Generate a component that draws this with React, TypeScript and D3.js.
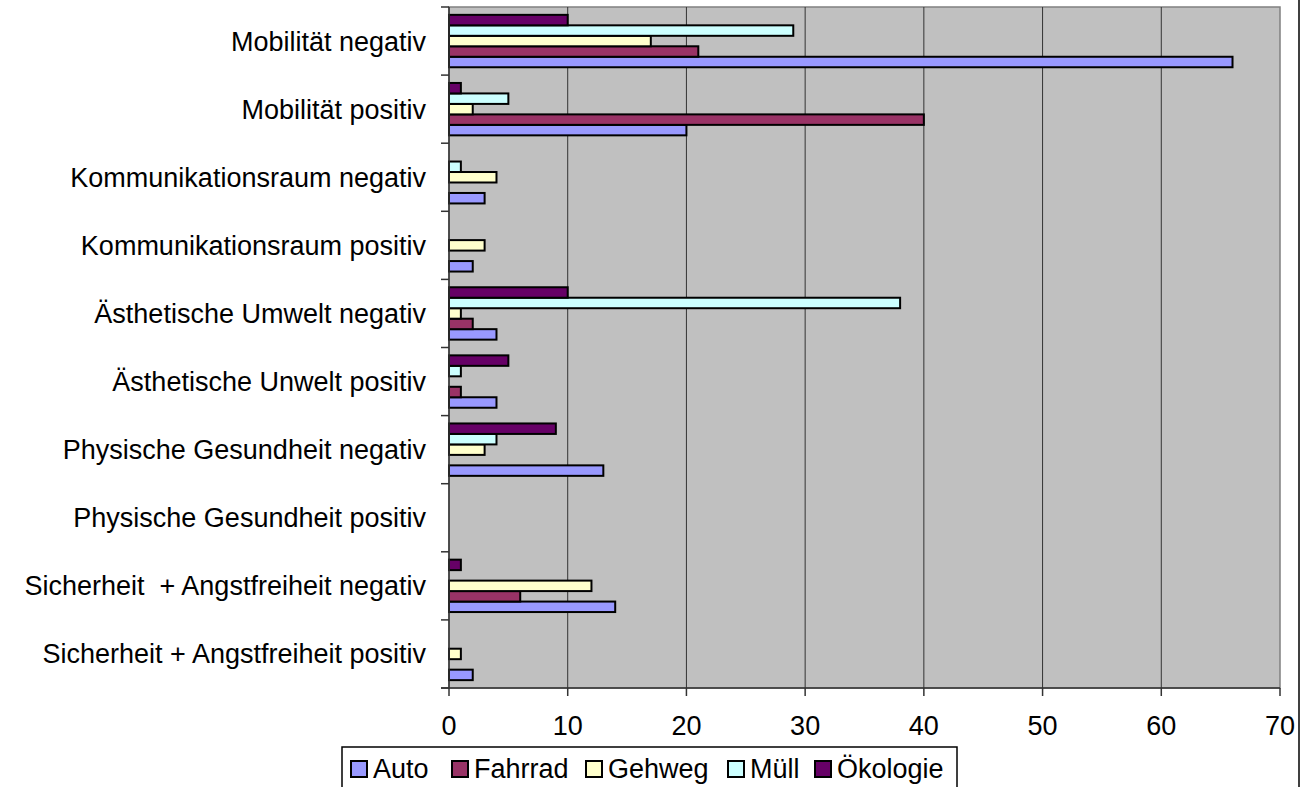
import React, { useEffect, useRef } from "react";
import * as d3 from "d3";

const categories = [
  "Mobilität negativ",
  "Mobilität positiv",
  "Kommunikationsraum negativ",
  "Kommunikationsraum positiv",
  "Ästhetische Umwelt negativ",
  "Ästhetische Unwelt positiv",
  "Physische Gesundheit negativ",
  "Physische Gesundheit positiv",
  "Sicherheit  + Angstfreiheit negativ",
  "Sicherheit + Angstfreiheit positiv",
];

const seriesNames = ["Auto", "Fahrrad", "Gehweg", "Müll", "Ökologie"];
const seriesColors = ["#9999FF", "#993366", "#FFFFCC", "#CCFFFF", "#660066"];

const auto = [66, 20, 3, 2, 4, 4, 13, 0, 14, 2];
const fahrrad = [21, 40, 0, 0, 2, 1, 0, 0, 6, 0];
const gehweg = [17, 2, 4, 3, 1, 0, 3, 0, 12, 1];
const muell = [29, 5, 1, 0, 38, 1, 4, 0, 0, 0];
const oekologie = [10, 1, 0, 0, 10, 5, 9, 0, 1, 0];

const xTicks = [0, 10, 20, 30, 40, 50, 60, 70];

const W = 1300;
const H = 787;
const FONT = "'Liberation Sans', Arial, sans-serif";

export default function App() {
  const ref = useRef<SVGSVGElement>(null);

  useEffect(() => {
    const svg = d3.select(ref.current);
    svg.selectAll("*").remove();

    const left = 449, right = 1280, top = 7, bottom = 688;
    const x = d3.scaleLinear().domain([0, 70]).range([left, right]);
    const y = d3.scaleBand<string>().domain(categories).range([top, bottom]).padding(0);
    const inner = d3
      .scaleBand<string>()
      .domain(["Ökologie", "Müll", "Gehweg", "Fahrrad", "Auto"])
      .range([0, y.bandwidth()])
      .paddingInner(0)
      .paddingOuter(0.75);

    const values: Record<string, number[]> = {
      Auto: auto,
      Fahrrad: fahrrad,
      Gehweg: gehweg,
      "Müll": muell,
      "Ökologie": oekologie,
    };

    svg.append("rect")
      .attr("x", left).attr("y", top)
      .attr("width", right - left).attr("height", bottom - top)
      .attr("fill", "#C0C0C0")
      .attr("stroke", "#808080").attr("stroke-width", 1.5);

    svg.append("g").selectAll("line")
      .data(xTicks.filter((t) => t > 0 && t < 70))
      .join("line")
      .attr("x1", (d) => x(d)).attr("x2", (d) => x(d))
      .attr("y1", top).attr("y2", bottom)
      .attr("stroke", "#333").attr("stroke-width", 1);

    const g = svg.append("g");
    categories.forEach((cat, ci) => {
      seriesNames.forEach((s, si) => {
        const v = values[s][ci];
        if (!v) return;
        g.append("rect")
          .attr("x", x(0))
          .attr("y", (y(cat) as number) + (inner(s) as number))
          .attr("width", x(v) - x(0))
          .attr("height", inner.bandwidth())
          .attr("fill", seriesColors[si])
          .attr("stroke", "#000")
          .attr("stroke-width", 2);
      });
    });

    svg.append("line")
      .attr("x1", left).attr("x2", left).attr("y1", top).attr("y2", bottom)
      .attr("stroke", "#333").attr("stroke-width", 1.5);
    svg.append("line")
      .attr("x1", left - 8).attr("x2", right).attr("y1", bottom).attr("y2", bottom)
      .attr("stroke", "#333").attr("stroke-width", 1.5);

    const bounds = categories.map((c) => y(c) as number).concat([bottom]);
    svg.append("g").selectAll("line")
      .data(bounds)
      .join("line")
      .attr("x1", left - 8).attr("x2", left)
      .attr("y1", (d) => d).attr("y2", (d) => d)
      .attr("stroke", "#333").attr("stroke-width", 1.5);

    svg.append("g").selectAll("line")
      .data(xTicks)
      .join("line")
      .attr("x1", (d) => x(d)).attr("x2", (d) => x(d))
      .attr("y1", bottom).attr("y2", bottom + 8)
      .attr("stroke", "#333").attr("stroke-width", 1.5);

    svg.append("g").selectAll("text")
      .data(xTicks)
      .join("text")
      .attr("x", (d) => x(d))
      .attr("y", 735)
      .attr("text-anchor", "middle")
      .attr("font-family", FONT)
      .attr("font-size", 27)
      .text((d) => String(d));

    svg.append("g").selectAll("text")
      .data(categories)
      .join("text")
      .attr("x", 426)
      .attr("y", (d) => (y(d) as number) + y.bandwidth() / 2 + 9.5)
      .attr("text-anchor", "end")
      .attr("font-family", FONT)
      .attr("font-size", 27)
      .style("white-space", "pre")
      .text((d) => d);

    svg.append("line")
      .attr("x1", 1299).attr("x2", 1299).attr("y1", 0).attr("y2", H)
      .attr("stroke", "#000").attr("stroke-width", 1.5);

    const lg = svg.append("g");
    lg.append("rect")
      .attr("x", 342).attr("y", 747)
      .attr("width", 957 - 342).attr("height", 60)
      .attr("fill", "#fff").attr("stroke", "#000").attr("stroke-width", 1.5);
    const legendX = [351, 452, 586, 728, 815];
    seriesNames.forEach((s, i) => {
      lg.append("rect")
        .attr("x", legendX[i]).attr("y", 761)
        .attr("width", 16).attr("height", 16)
        .attr("fill", seriesColors[i])
        .attr("stroke", "#000").attr("stroke-width", 2);
      lg.append("text")
        .attr("x", legendX[i] + 22).attr("y", 778)
        .attr("font-family", FONT)
        .attr("font-size", 27)
        .text(s);
    });
  }, []);

  return (
    <svg
      ref={ref}
      width={W}
      height={H}
      style={{ position: "absolute", left: 0, top: 0, background: "#fff" }}
    />
  );
}
